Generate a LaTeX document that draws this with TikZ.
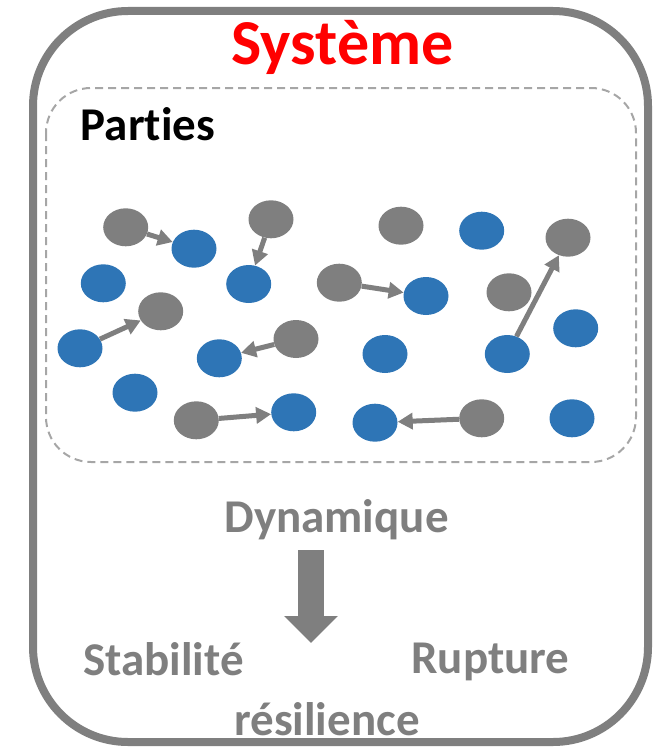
\documentclass[tikz,border=0pt]{standalone}
\usepackage{fontspec}
\setmainfont{Carlito}[Ligatures=NoCommon]
\usetikzlibrary{shapes.geometric,arrows.meta}
\definecolor{dotgray}{HTML}{7F7F7F}
\definecolor{dotblue}{HTML}{2E75B6}
\definecolor{dashgray}{HTML}{A6A6A6}
\tikzset{
  part/.style={ellipse, minimum width=45pt, minimum height=38pt, inner sep=0pt},
  grey part/.style={part, fill=dotgray},
  blue part/.style={part, fill=dotblue},
  drift/.style={dotgray, line width=5pt, -{Triangle[length=15pt,width=16pt]}},
  bigflow/.style={dotgray, line width=26pt, -{Triangle[length=27pt,width=52pt]}},
  word/.style={font=\bfseries\fontsize{47}{54}\selectfont, text=dotgray, anchor=base, inner sep=0pt}
}

\begin{document}
\begin{tikzpicture}[x=1pt,y=-1pt]
  \useasboundingbox (0,0) rectangle (667,752);
  \draw[dotgray, line width=8pt, rounded corners=95pt] (33,11) rectangle (648,742);
  \draw[dashgray, line width=2pt, dash pattern=on 8pt off 5pt, rounded corners=45pt] (46,88) rectangle (636,462);
  \node[word, text=red, font=\bfseries\fontsize{64}{70}\selectfont] (systeme) at (342.5,65) {Système};
  \node[word, text=black] (parties) at (148,140) {Part\kern0pt ies};
  % parts
  \foreach \n/\x/\y in {g1/125.7/227.3, g2/271/219.3, g3/160.7/311.3, g4/296/339,
                        g5/196.3/420.3, g6/339.3/282.7, g7/401/225.7, g8/568/237.7,
                        g9/509/292.3, g10/481.7/418.3}
    \node[grey part] (\n) at (\x,\y) {};
  \foreach \n/\x/\y in {b1/194/248.7, b2/248.7/284, b3/103.3/283.3, b4/80/348.3,
                        b5/219.3/358.3, b6/135/392.7, b7/293.7/412.3, b8/481.7/230.7,
                        b9/426/296, b10/575.7/328.3, b11/385/354, b12/507.3/354,
                        b13/375/422.7, b14/572/418.3}
    \node[blue part] (\n) at (\x,\y) {};
  \draw[drift] (g1) -- (b1);
  \draw[drift] (g2) -- (b2);
  \draw[drift] (b4) -- (g3);
  \draw[drift] (g4) -- (b5);
  \draw[drift] (g5) -- (b7);
  \draw[drift] (g6) -- (b9);
  \draw[drift] (b12) -- (g8);
  \draw[drift] (g10) -- (b13);
  % dynamics
  \node[word] (dyn) at (336.5,532) {Dynamique};
  \coordinate (flowtop) at (311,550);
  \coordinate (flowtip) at (311,643);
  \draw[bigflow] (flowtop) -- (flowtip);
  \node[word] (stab) at (163.5,675) {Stabilité};
  \node[word] (rupt) at (490.5,673) {Rupture};
  \node[word] (resil) at (327,735) {résilience};
\end{tikzpicture}
\end{document}
